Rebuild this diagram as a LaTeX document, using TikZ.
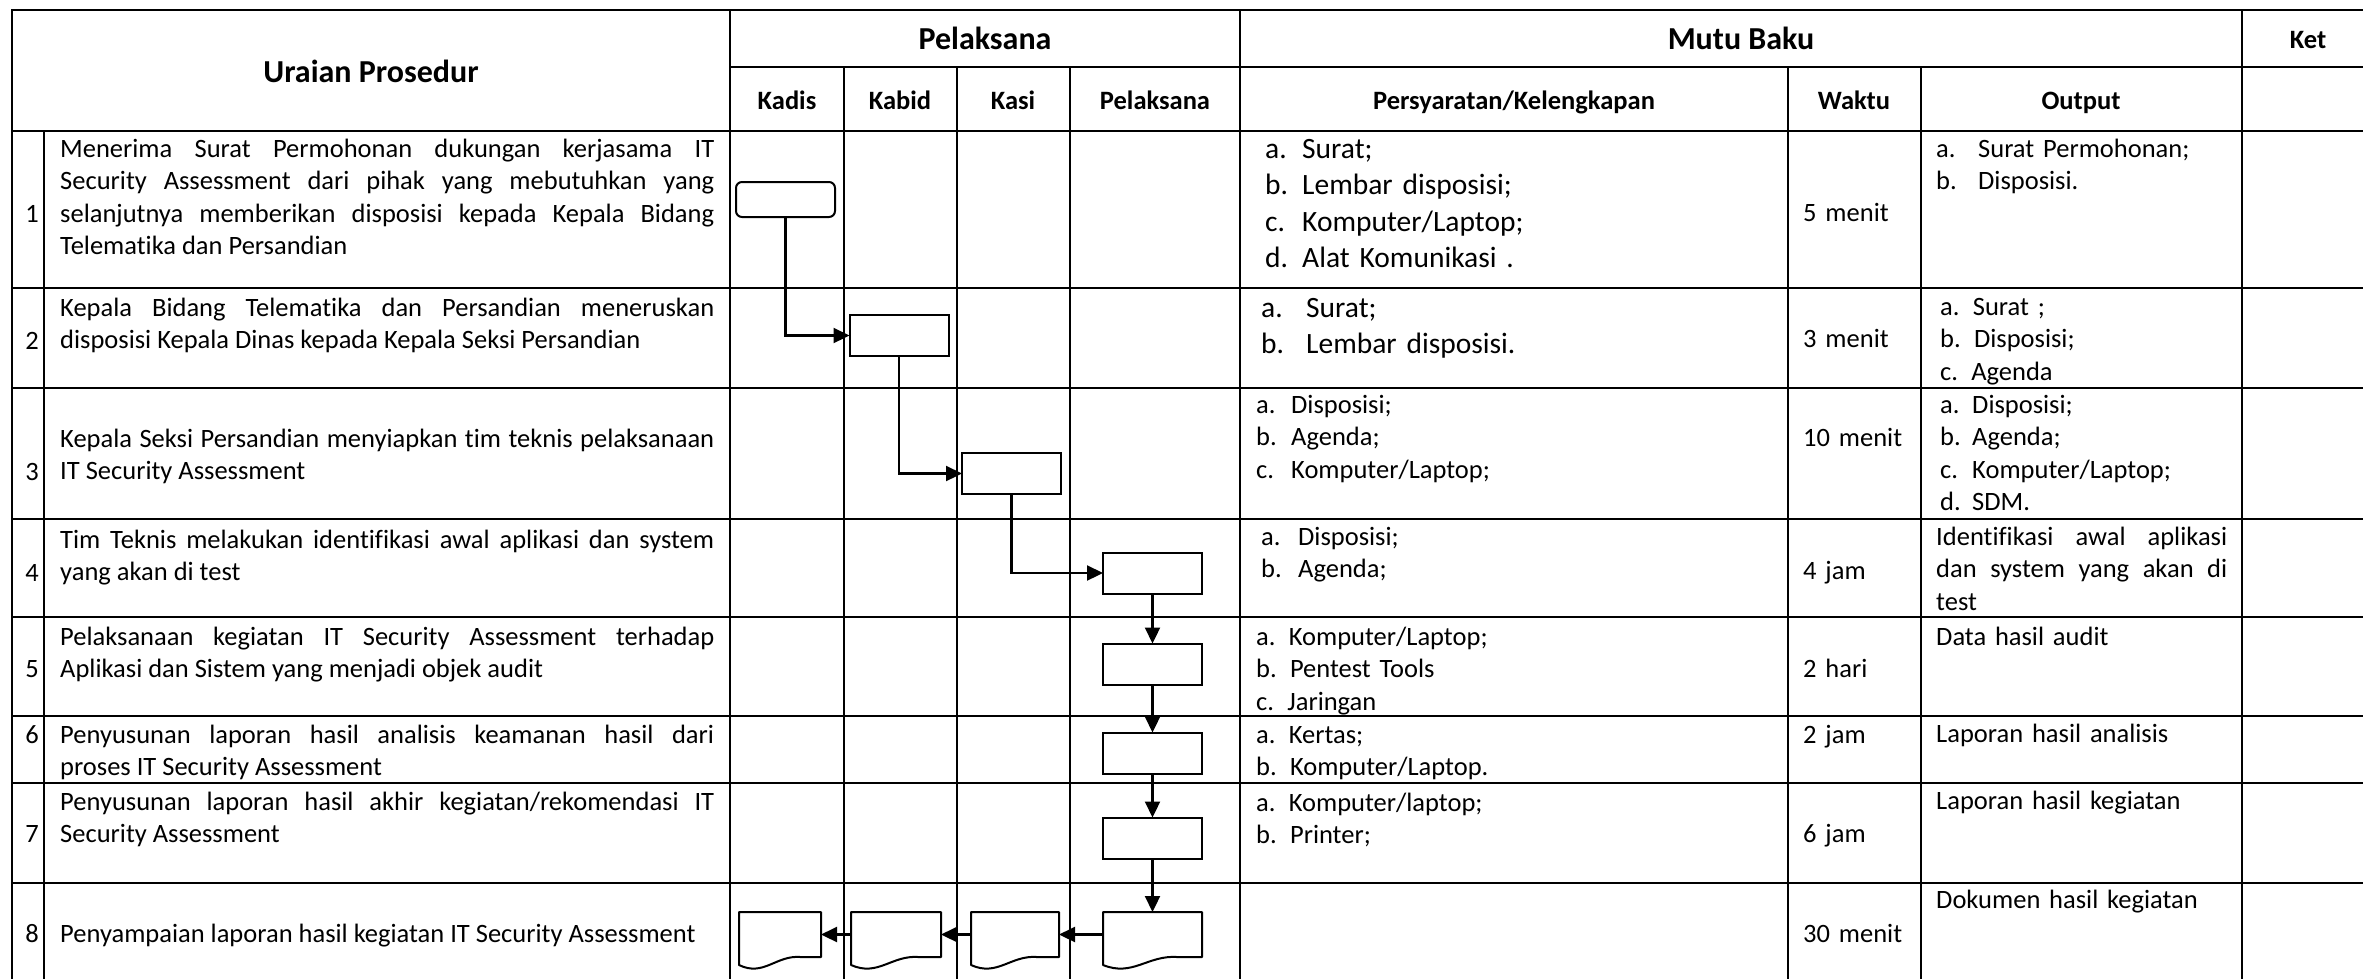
\documentclass[tikz,border=0pt]{standalone}
\usepackage{fontspec}
\setmainfont{Carlito}[Ligatures=NoCommon]
\usetikzlibrary{positioning,calc}
\usetikzlibrary{arrows.meta}
\newcommand{\butir}[2]{\makebox[#1][l]{#2}}
\newcommand{\rata}[1]{\makebox[\linewidth][s]{#1}}

\begin{document}
\begin{tikzpicture}[x=1pt,y=-1pt,
      garis/.style = {line width=2.5pt, line cap=rect},
      isi/.style = {anchor=base west, inner sep=0pt, align=left, text width=#1,
         font=\fontsize{26.5}{32.5}\selectfont},
      isi/.default = 300pt,
      besar/.style = {isi, font=\fontsize{29.5}{36.5}\selectfont},
      uraian/.style = {isi=654pt, align=justify},
      nomor/.style = {anchor=base, inner sep=0pt, font=\fontsize{26.5}{32.5}\selectfont},
      judul/.style = {anchor=base, inner sep=0pt, font=\fontsize{32}{38}\selectfont\bfseries},
      kolom/.style = {anchor=base, inner sep=0pt, font=\fontsize{26.5}{32}\selectfont\bfseries},
      proses/.style = {draw, line width=2pt, outer sep=0pt, minimum width=99pt,
         minimum height=41pt, inner sep=0pt},
      mulai/.style = {proses, rounded corners=6pt, minimum height=35pt},
      dokumen/.style = {minimum height=45pt, outer sep=0pt, inner sep=0pt},
      alur/.style = {line width=2.2pt, -{Triangle[length=16pt,width=15pt]}}]

   \useasboundingbox (0,0) rectangle (2363,978);
   \clip (0,0) rectangle (2363,978);

   % table grid
   \draw[garis] (12,10) -- (2400,10);
   \draw[garis] (730,67) -- (2400,67);
   \foreach \y in {131,288,388,519,617,716,783,883}
      \draw[garis] (12,\y) -- (2400,\y);
   \foreach \x in {12,730,1240,2242}
      \draw[garis] (\x,10) -- (\x,1000);
   \foreach \x in {844,957,1070,1788,1921}
      \draw[garis] (\x,67) -- (\x,1000);
   \draw[garis] (44,131) -- (44,1000);

   % header
   \node[judul] (hUraian) at (371,82)  {Uraian Prosedur};
   \node[judul] (hPelaksana) at (985,49) {Pelaksana};
   \node[judul] (hMutu) at (1741,49) {Mutu Baku};
   \node[kolom] (hKet) at (2308,48) {Ket};
   \node[kolom] (hKadis) at (787,109) {Kadis};
   \node[kolom] (hKabid) at (900,109) {Kabid};
   \node[kolom] (hKasi) at (1013,109) {Kasi};
   \node[kolom] (hPel) at (1155,109) {Pelaksana};
   \node[kolom] (hSyarat) at (1514,109) {Persyaratan/Kelengkapan};
   \node[kolom] (hWaktu) at (1854,109) {Waktu};
   \node[kolom] (hOutput) at (2081,109) {Output};

   % nomor
   \node[nomor] (n1) at (32,222) {1};
   \node[nomor] (n2) at (32,349) {2};
   \node[nomor] (n3) at (32,480) {3};
   \node[nomor] (n4) at (32,581) {4};
   \node[nomor] (n5) at (32,677) {5};
   \node[nomor] (n6) at (32,743) {6};
   \node[nomor] (n7) at (32,842) {7};
   \node[nomor] (n8) at (32,942) {8};

   % uraian prosedur
   \node[uraian] (u1) at (60,157) {\rata{Menerima Surat Permohonan dukungan kerjasama IT}\\
      \rata{Security Assessment dari pihak yang mebutuhkan yang}\\
      \rata{selanjutnya memberikan disposisi kepada Kepala Bidang}\\
      Telematika dan Persandian};
   \node[uraian] (u2) at (60,316) {\rata{Kepala Bidang Telematika dan Persandian meneruskan}\\
      disposisi Kepala Dinas kepada Kepala Seksi Persandian};
   \node[uraian] (u3) at (60,447) {\rata{Kepala Seksi Persandian menyiapkan tim teknis pelaksanaan}\\
      IT Security Assessment};
   \node[uraian] (u4) at (60,548) {\rata{Tim Teknis melakukan identifikasi awal aplikasi dan system}\\
      yang akan di test};
   \node[uraian] (u5) at (60,645) {\rata{Pelaksanaan kegiatan IT Security Assessment terhadap}\\
      Aplikasi dan Sistem yang menjadi objek audit};
   \node[uraian] (u6) at (60,743) {\rata{Penyusunan laporan hasil analisis keamanan hasil dari}\\
      proses IT Security Assessment};
   \node[uraian] (u7) at (60,810) {\rata{Penyusunan laporan hasil akhir kegiatan/rekomendasi IT}\\
      Security Assessment};
   \node[uraian] (u8) at (60,942) {Penyampaian laporan hasil kegiatan IT Security Assessment};

   % persyaratan/kelengkapan
   \node[besar] (p1) at (1265,158) {\butir{37pt}{a.}Surat;\\ \butir{37pt}{b.}Lembar disposisi;\\
      \butir{37pt}{c.}Komputer/Laptop;\\ \butir{37pt}{d.}Alat Komunikasi .};
   \node[besar] (p2) at (1261,317) {\butir{45pt}{a.}Surat;\\ \butir{45pt}{b.}Lembar disposisi.};
   \node[isi] (p3) at (1256,413) {\butir{35pt}{a.}Disposisi;\\ \butir{35pt}{b.}Agenda;\\
      \butir{35pt}{c.}Komputer/Laptop;};
   \node[isi] (p4) at (1261,545) {\butir{37pt}{a.}Disposisi;\\ \butir{37pt}{b.}Agenda;};
   \node[isi] (p5) at (1256,645) {a. Komputer/Laptop;\\ b. Pentest Tools\\ c. Jaringan};
   \node[isi] (p6) at (1256,743) {a. Kertas;\\ b. Komputer/Laptop.};
   \node[isi] (p7) at (1256,811) {a. Komputer/laptop;\\ b. Printer;};

   % waktu
   \node[isi] (w1) at (1803,221) {5 menit};
   \node[isi] (w2) at (1803,347) {3 menit};
   \node[isi] (w3) at (1803,446) {10 menit};
   \node[isi] (w4) at (1803,579) {4 jam};
   \node[isi] (w5) at (1803,677) {2 hari};
   \node[isi] (w6) at (1803,743) {2 jam};
   \node[isi] (w7) at (1803,842) {6 jam};
   \node[isi] (w8) at (1803,942) {30 menit};

   % output
   \node[isi] (o1) at (1936,157) {\butir{42pt}{a.}Surat Permohonan;\\ \butir{42pt}{b.}Disposisi.};
   \node[isi] (o2) at (1940,315) {a. Surat ;\\ b. Disposisi;\\ c. Agenda};
   \node[isi] (o3) at (1940,413) {\butir{32pt}{a.}Disposisi;\\ \butir{32pt}{b.}Agenda;\\
      \butir{32pt}{c.}Komputer/Laptop;\\ \butir{32pt}{d.}SDM.};
   \node[isi=291pt, align=justify] (o4) at (1936,545) {\rata{Identifikasi awal aplikasi}\\
      \rata{dan system yang akan di}\\ test};
   \node[isi] (o5) at (1936,645) {Data hasil audit};
   \node[isi] (o6) at (1936,742) {Laporan hasil analisis};
   \node[isi] (o7) at (1936,809) {Laporan hasil kegiatan};
   \node[isi] (o8) at (1936,908) {Dokumen hasil kegiatan};

   % alur pelaksana
   \node[mulai]  (b1) at (785.5,199.5) {};
   \node[proses] (b2) at (899,335.5) {};
   \node[proses] (b3) at (1011.5,473.5) {};
   \node[proses] (b4) at (1152.5,573) {};
   \node[proses, below=50pt of b4] (b5) {};
   \node[proses, below=48pt of b5] (b6) {};
   \node[proses, below=44pt of b6] (b7) {};
   \node[dokumen, minimum width=99pt, below=53.5pt of b7] (d4) {};
   \node[dokumen, minimum width=88pt, left=44pt of d4] (d3) {};
   \node[dokumen, minimum width=90pt, left=30pt of d3] (d2) {};
   \node[dokumen, minimum width=82pt, left=30pt of d2] (d1) {};

   % document outlines
   \foreach \d in {d1,d2,d3,d4}
      \draw[line width=2pt, line join=round] (\d.north west)
         -- ([yshift=-8pt]\d.south west)
         .. controls ($(\d.south west)!0.3!(\d.south east)+(0pt,-20pt)$)
         and ($(\d.south west)!0.45!(\d.south east)+(0pt,2pt)$)
         .. ($(\d.south west)!0.75!(\d.south east)$)
         -- (\d.south east) -- (\d.north east) -- cycle;

   \draw[alur] (b1.south) |- (b2.west);
   \draw[alur] (b2.south) |- (b3.west);
   \draw[alur] (b3.south) |- (b4.west);
   \draw[alur] (b4) -- (b5);
   \draw[alur] (b5) -- (b6);
   \draw[alur] (b6) -- (b7);
   \draw[alur] (b7) -- (d4);
   \draw[alur] (d4) -- (d3);
   \draw[alur] (d3) -- (d2);
   \draw[alur] (d2) -- (d1);

\end{tikzpicture}
\end{document}
